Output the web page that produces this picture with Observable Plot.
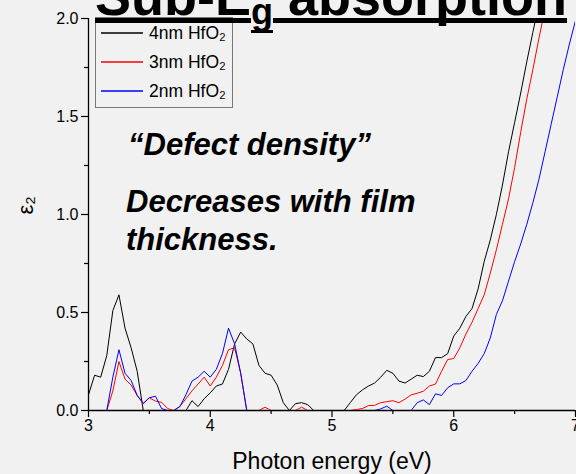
<!DOCTYPE html>
<html><head><meta charset="utf-8">
<script src="https://cdn.jsdelivr.net/npm/d3@7"></script>
<script src="https://cdn.jsdelivr.net/npm/@observablehq/plot@0.6"></script>
<style>
html,body{margin:0;padding:0;background:#f1f1f1;}
#wrap{position:relative;width:576px;height:474px;overflow:hidden;font-family:Arial,"Liberation Sans",sans-serif;color:#000;}
#chart{position:absolute;left:0;top:0;}
#title{position:absolute;left:95px;top:-31px;font-weight:bold;font-size:54px;line-height:54px;white-space:nowrap;}
#title .u{text-decoration:underline;text-decoration-thickness:5px;text-decoration-skip-ink:none;}
#title .sub{position:relative;top:9px;font-size:36px;text-underline-offset:6px;text-decoration-thickness:3px;}
#legend{position:absolute;left:95px;top:17px;width:136px;height:89px;border:1px solid #777;}
#legend .row{position:absolute;left:0;height:20px;}
#legend svg{position:absolute;left:5px;top:-2px;overflow:visible;}
#legend .tx{position:absolute;left:53px;top:-8px;font-size:17.5px;line-height:17.5px;white-space:nowrap;}
.note{position:absolute;font-weight:bold;font-style:italic;font-size:31px;line-height:31px;white-space:nowrap;}
</style></head>
<body>
<div id="wrap">
  <div id="chart"></div>
  <div id="legend"></div>
  <div id="notes"></div>
  <div id="title"></div>
</div>
<script>
// ---- data ----
const energy = [3.00,3.05,3.10,3.15,3.20,3.25,3.30,3.35,3.40,3.45,
  3.50,3.55,3.60,3.65,3.70,3.75,3.80,3.85,3.90,3.95,
  4.00,4.05,4.10,4.15,4.20,4.25,4.30,4.35,4.40,4.45,
  4.50,4.55,4.60,4.65,4.70,4.75,4.80,4.85,4.90,4.95,
  5.00,5.05,5.10,5.15,5.20,5.25,5.30,5.35,5.40,5.45,
  5.50,5.55,5.60,5.65,5.70,5.75,5.80,5.85,5.90,5.95,
  6.00,6.05,6.10,6.15,6.20,6.25,6.30,6.35,6.40,6.45,
  6.50,6.55,6.60,6.65,6.70,6.75,6.80,6.85,6.90,6.95,
  7.00];
const eps4nm = [0.08,0.18,0.17,0.28,0.51,0.59,0.42,0.32,0.20,0,
  0,0,0,0,0,0,0,0.05,0.02,0.06,
  0.09,0.125,0.135,0.21,0.34,0.40,0.365,0.34,0.23,0.19,
  0.18,0.13,0.04,0,0.035,0.04,0.03,0,0,0,
  0,0,0,0.04,0.08,0.105,0.125,0.14,0.17,0.205,
  0.19,0.15,0.14,0.16,0.18,0.173,0.20,0.27,0.27,0.29,
  0.38,0.42,0.48,0.52,0.62,0.76,0.87,1.00,1.15,1.32,
  1.47,1.62,1.78,1.93,2.08,2.23,null,null,null,null,
  null];
const eps3nm = [0,0,0,0,0.10,0.25,0.16,0.13,0.077,0.034,
  0.065,0.048,0.042,0.01,0,0.02,0.06,0.10,0.135,0.17,
  0.125,0.17,0.23,0.31,0.32,0.19,0,0,0,0.017,
  0,0,0,0,0,0.017,0,0,0,0,
  0,0,0,0,0.005,0.01,0.025,0.026,0.04,0.045,
  0.05,0.04,0.058,0.08,0.088,0.098,0.125,0.135,0.20,0.26,
  0.265,0.32,0.39,0.45,0.52,0.59,0.70,0.82,0.95,1.08,
  1.24,1.42,1.59,1.74,1.90,2.05,null,null,null,null,
  null];
const eps2nm = [0,0,0,0,0.17,0.31,0.19,0.153,0.077,0.037,
  0.065,0.073,0.01,0,0,0.02,0.08,0.15,0.17,0.20,
  0.17,0.21,0.29,0.42,0.34,0.19,0,0,0,0,
  0,0,0,0,0,0,0,0,0,0,
  0,0,0,0,0,0,0,0,0.008,0.022,
  0,0,0,0,0.04,0.054,0.03,0.085,0.077,0.116,
  0.136,0.136,0.153,0.20,0.24,0.29,0.37,0.49,0.56,0.66,
  0.76,0.85,0.95,1.06,1.18,1.32,1.46,1.60,1.74,1.87,
  1.99];
const seriesNames = ["4nm HfO₂","3nm HfO₂","2nm HfO₂"];
const seriesColors = ["#000000","#ff0000","#0000ff"];
const xTicks = [3,4,5,6,7];
const xMinorTicks = [3.5,4.5,5.5,6.5];
const yTicks = [0,0.5,1.0,1.5,2.0];
const yMinorTicks = [0.25,0.75,1.25,1.75];
const xLabel = "Photon energy (eV)";
const yLabel = "ε₂";
const titleParts = ["Sub-E","g"," absorption"];
const notes = ["“Defect density”","Decreases with film","thickness."];

// ---- table ----
const rows = [];
[eps4nm, eps3nm, eps2nm].forEach((vals, i) =>
  vals.forEach((v, j) => rows.push({energy: energy[j], eps: v, series: seriesNames[i]})));

const chart = Plot.plot({
  width: 576, height: 474,
  marginLeft: 88, marginRight: 1, marginTop: 18, marginBottom: 64,
  style: {background: "transparent", fontFamily: "Arial, 'Liberation Sans', sans-serif", fontSize: "16px", color: "#000"},
  x: {domain: [xTicks[0], xTicks[xTicks.length - 1]]},
  y: {domain: [yTicks[0], yTicks[yTicks.length - 1]]},
  color: {domain: seriesNames, range: seriesColors},
  marks: [
    Plot.axisY(yMinorTicks, {tickSize: 4, tickFormat: () => "", label: null, strokeWidth: 1.2}),
    Plot.axisY(yTicks, {tickSize: 7, tickPadding: 3, tickFormat: d3.format(".1f"), label: null, strokeWidth: 1.2}),
    Plot.axisX(xMinorTicks, {tickSize: 4, tickFormat: () => "", label: null, strokeWidth: 1.2}),
    Plot.axisX(xTicks, {tickSize: 7, tickPadding: 2, tickFormat: d3.format("d"), label: null, strokeWidth: 1.2}),
    Plot.ruleX([xTicks[0]], {stroke: "#000", strokeWidth: 1.3}),
    Plot.ruleY([yTicks[0]], {stroke: "#000", strokeWidth: 1.3}),
    Plot.line(rows, {x: "energy", y: "eps", stroke: "series", z: "series", strokeWidth: 1, clip: true}),
    Plot.text([xLabel], {frameAnchor: "bottom", dy: 51, fontSize: 23, lineAnchor: "middle"}),
    Plot.text([yLabel], {frameAnchor: "left", dx: -63, rotate: -90, fontSize: 22, lineAnchor: "middle"})
  ]
});
document.getElementById("chart").appendChild(chart);

// ---- title ----
const title = document.getElementById("title");
titleParts.forEach((t, i) => {
  const s = document.createElement("span");
  s.className = i === 1 ? "u sub" : "u";
  s.textContent = t;
  title.appendChild(s);
});

// ---- legend ----
const NS = "http://www.w3.org/2000/svg";
const legend = document.getElementById("legend");
seriesNames.forEach((name, i) => {
  const row = document.createElement("div");
  row.className = "row";
  row.style.top = (15 + i * 29) + "px";
  const svg = document.createElementNS(NS, "svg");
  svg.setAttribute("width", "42");
  svg.setAttribute("height", "4");
  const ln = document.createElementNS(NS, "line");
  ln.setAttribute("x1", "0"); ln.setAttribute("x2", "42");
  ln.setAttribute("y1", "2"); ln.setAttribute("y2", "2");
  ln.setAttribute("stroke", seriesColors[i]);
  ln.setAttribute("stroke-width", "1.3");
  svg.appendChild(ln);
  const tx = document.createElement("div");
  tx.className = "tx";
  tx.textContent = name;
  row.appendChild(svg); row.appendChild(tx);
  legend.appendChild(row);
});

// ---- annotations ----
const noteBox = document.getElementById("notes");
const noteTops = [129, 186, 224];
const noteLefts = [128, 126, 126];
notes.forEach((t, i) => {
  const d = document.createElement("div");
  d.className = "note";
  d.style.top = noteTops[i] + "px";
  d.style.left = noteLefts[i] + "px";
  d.textContent = t;
  noteBox.appendChild(d);
});
</script>
</body></html>
